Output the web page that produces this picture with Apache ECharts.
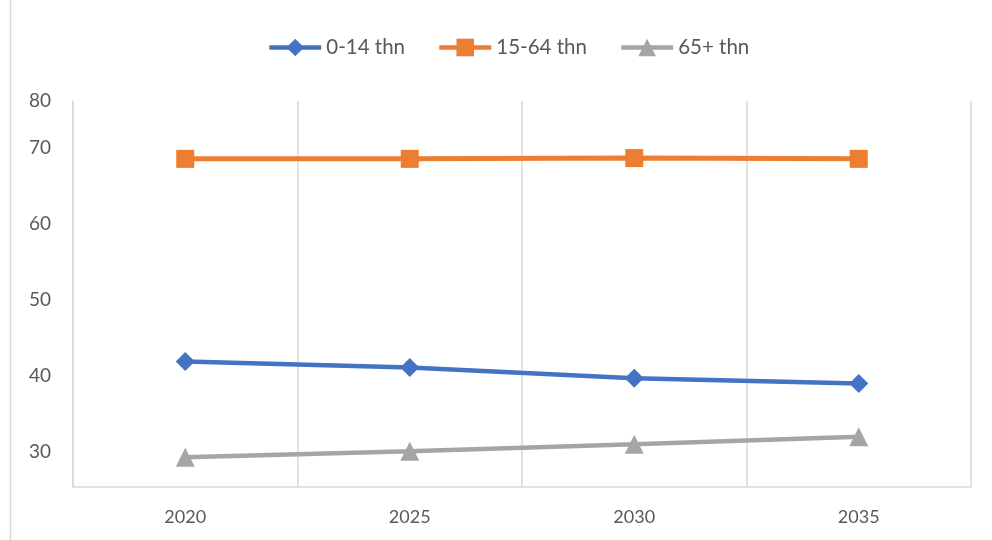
<!DOCTYPE html>
<html>
<head>
<meta charset="utf-8">
<script src="https://cdn.jsdelivr.net/npm/echarts@6/dist/echarts.min.js"></script>
<style>
  html, body { margin: 0; padding: 0; background: #fff; }
  #main_container { width: 992px; height: 540px; }
</style>
</head>
<body>
<div id="main_container"></div>
<script>
// data
var years = ["2020", "2025", "2030", "2035"];
var age0to14 = [41.9, 41.1, 39.7, 39.0];
var age15to64 = [68.5, 68.5, 68.6, 68.5];
var age65plus = [29.3, 30.1, 31.0, 32.0];

// y tick positions and the texts shown next to them (top one reads "80")
var yTickValues = [30, 40, 50, 60, 70, 76.1];
var yTickLabels = ["30", "40", "50", "60", "70", "80"];

var myChart = echarts.init(document.getElementById("main_container"));
var textColor = "#595959";
var lineGray = "#d9d9d9";

myChart.setOption({
  animation: false,
  textStyle: { fontFamily: "Lato" },
  graphic: [
    {
      type: "rect",
      shape: { x: 10.5, y: -5, width: 990, height: 560 },
      style: { fill: "none", stroke: lineGray, lineWidth: 1.5 },
    },
  ],
  legend: {
    top: 32,
    left: 262,
    itemWidth: 52,
    itemHeight: 22,
    itemGap: 32,
    lineStyle: { width: 4.5 },
    textStyle: { fontSize: 20.5, color: textColor, fontFamily: "Lato" },
    data: ["0-14 thn", "15-64 thn", "65+ thn"],
  },
  grid: {
    left: 73,
    right: 21,
    top: 101,
    bottom: 53,
  },
  xAxis: {
    type: "category",
    boundaryGap: true,
    data: years,
    axisLine: { show: true, lineStyle: { color: lineGray, width: 1.5 } },
    axisTick: { show: false },
    axisLabel: { fontSize: 18, color: textColor, margin: 21 },
    splitLine: { show: true, lineStyle: { color: lineGray, width: 1.5 } },
  },
  yAxis: {
    type: "value",
    min: 25.4,
    max: 76.1,
    axisLine: { show: true, lineStyle: { color: lineGray, width: 1.5 } },
    axisTick: { show: false },
    splitLine: { show: false },
    axisLabel: {
      fontSize: 19,
      color: textColor,
      margin: 22,
      customValues: yTickValues,
      formatter: function (v) {
        var i = yTickValues.indexOf(v);
        return i >= 0 ? yTickLabels[i] : "";
      },
    },
  },
  series: [
    {
      name: "0-14 thn",
      type: "line",
      data: age0to14,
      symbol: "diamond",
      symbolSize: 19,
      itemStyle: { color: "#4472c4" },
      lineStyle: { color: "#4472c4", width: 4.5 },
    },
    {
      name: "15-64 thn",
      type: "line",
      data: age15to64,
      symbol: "rect",
      symbolSize: 18,
      itemStyle: { color: "#ed7d31" },
      lineStyle: { color: "#ed7d31", width: 5 },
    },
    {
      name: "65+ thn",
      type: "line",
      data: age65plus,
      symbol: "triangle",
      symbolSize: 19,
      itemStyle: { color: "#a5a5a5" },
      lineStyle: { color: "#a5a5a5", width: 4.5 },
    },
  ],
});
</script>
</body>
</html>
